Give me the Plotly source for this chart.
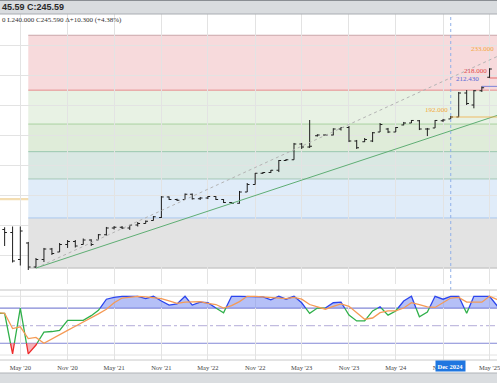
import pandas as pd
import plotly.graph_objects as go

# ---------------- data ----------------
months = pd.date_range("2020-02-01", "2025-06-01", freq="MS")   # stochastic months
bar_months = pd.date_range("2020-02-01", "2025-05-01", freq="MS")  # visible price bars

opens = [113, 117, 115, 97, 108, 92, 97, 104, 102, 107, 109,
         107, 110, 110, 113.5, 118, 118.5, 118, 120, 121, 123, 125, 138.7,
         137, 137, 140.5, 137.5, 138, 139, 137, 135, 134.5, 142, 147, 154.5,
         155, 156.5, 163, 163.5, 174, 172, 179.5, 180, 180, 184, 185, 176,
         175.5, 176, 182, 184, 182, 186.7, 188, 189.5, 184, 184.7, 189.5, 190.7,
         192, 208, 200, 209.5, 218.5]
highs = [120, 118.5, 119, 119, 108.7, 98, 104.7, 104.7, 108, 110, 110,
         111, 110.5, 114, 118.7, 119.3, 119.3, 120, 122, 123, 126, 139.3, 139,
         137.5, 141, 141, 138.7, 139.3, 139.3, 137.3, 135.3, 142.7, 148, 154.7, 155.3,
         156.7, 163.3, 164, 174.7, 174.7, 190, 180.5, 180.3, 184.5, 185.3, 186, 176.7,
         178, 182, 188, 184.7, 185.3, 188.7, 190, 190, 184.7, 190, 190.7, 192.7,
         208.7, 210, 210, 212.43, 224.5]
lows = [112, 106, 95, 93, 90, 91.3, 95.3, 100, 102, 104.7, 105,
        107, 106, 110, 113, 117, 117.3, 116.7, 119, 121, 123, 124.7, 136.7,
        136, 137, 137, 136.7, 137.3, 136.7, 134.7, 134, 134.3, 142, 147, 154,
        154.7, 155.3, 162.7, 163.5, 170.7, 171.3, 179, 179.5, 179.8, 183, 175.3, 170.7,
        175.3, 175.3, 182, 181.3, 182, 186.5, 188, 183.3, 179.3, 184.7, 188.7, 190.7,
        192, 200, 197.8, 208.7, 218]
closes = [118, 115, 96, 116, 92, 97, 104, 101, 107, 109, 106,
          110, 107, 113.5, 118, 118.5, 118, 120, 121, 122.5, 125.5, 138.7, 137,
          136.5, 140.5, 137.5, 138, 139, 137, 135, 134.5, 142, 147, 154.5, 155,
          156.5, 163, 163.5, 174, 172, 172.5, 180, 180, 184, 185, 176, 171.5,
          177, 181.5, 187, 182, 185, 188, 189.7, 184, 184, 189.7, 190, 192,
          208, 201, 209.5, 211.5, 224]

stoch_k = [71, 71, 2, 80, 2, 17, 39, 40, 42, 59, 59,
           59, 67, 76, 95, 98, 100, 100, 100, 96, 100, 92, 85,
           87, 100, 85, 90, 89, 80, 72, 100, 100, 100, 100, 99,
           94, 100, 95, 100, 89, 71, 80, 80, 89, 90, 68, 58,
           58, 75, 82, 68, 75, 92, 100, 65, 73, 100, 95, 100,
           100, 71, 100, 100, 100, 83]
stoch_d = [72, 71, 45, 48, 28, 30, 20, 27, 35, 42, 49,
           56, 63, 70, 78, 89, 97, 99, 100, 99, 98, 96, 92,
           88, 90, 90, 91, 88, 86, 80, 84, 91, 100, 100, 99,
           97, 97, 96, 98, 95, 86, 82, 78, 83, 87, 83, 72,
           61, 63, 72, 75, 75, 80, 89, 86, 82, 81, 89, 97,
           98, 90, 90, 90, 100, 94]

# Fibonacci retracement levels (high -> low) and band colours
fib_start = "2020-06-01"
fib_levels = [246.5, 209.9, 187.3, 168.9, 150.7, 124.7, 91.3]
fib_fills = ["#f7dadc", "#e8f2e4", "#dfecd9", "#d9e8e3", "#e0ecf9", "#e3e3e3"]
fib_lines = ["#c9a7a9", "#e58a8a", "#a9d2a0", "#98c6ae", "#a5c9b8", "#a9c9ef", "#b9b9b9"]

# trend lines
trend_green_dates = ["2020-07-01", "2025-05-30"]
trend_green_prices = [91.3, 193.0]
trend_dot_dates = ["2020-07-01", "2025-05-30"]
trend_dot_prices = [91.3, 232.3]

support_price = 137.3          # long pale orange line

# marked price levels
mark_dates = ["2024-12-01", "2025-04-01", "2025-05-01", "2025-06-01"]
mark_prices = [192.0, 212.43, 218.0, 233.0]
mark_labels = ["192.000", "212.430", "218.000", "233.000"]
mark_colors = ["#f2a93b", "#5468d8", "#e04848", "#f2a93b"]

tick_vals = ["2020-05-01", "2020-11-01", "2021-05-01", "2021-11-01", "2022-05-01",
             "2022-11-01", "2023-05-01", "2023-11-01", "2024-05-01", "2024-11-01",
             "2025-05-01"]
tick_text = ["May '20", "Nov '20", "May '21", "Nov '21", "May '22", "Nov '22",
             "May '23", "Nov '23", "May '24", "Nov '24", "May '25"]
price_grid = [100, 120, 140, 160, 180, 200, 220, 240]

cursor_date = "2024-12-01"
cursor_label = "Dec 2024"

header1 = "45.59 C:245.59"
header2 = "0 L240.000 C245.590 \u0394+10.300 (+4.38%)"

# ---------------- layout geometry ----------------
W, H = 500, 383
def py(px):
    return 1 - px / H

x_range = ["2020-02-12", "2025-05-30"]
main_dom = [py(284), py(14)]
stoch_dom = [py(360), py(290)]
price_range = [80.67, 260.67]
stoch_range = [-8.5, 110.7]

fig = go.Figure()

fig.add_trace(go.Ohlc(
    x=bar_months, open=opens, high=highs, low=lows, close=closes,
    increasing=dict(line=dict(color="#1e1e1e", width=1)),
    decreasing=dict(line=dict(color="#1e1e1e", width=1)),
    tickwidth=0.32, hoverinfo="skip", xaxis="x", yaxis="y", showlegend=False))

fig.add_trace(go.Scatter(x=trend_dot_dates, y=trend_dot_prices, mode="lines",
                         line=dict(color="#b4b4b4", width=1, dash="dot"),
                         hoverinfo="skip", showlegend=False))
fig.add_trace(go.Scatter(x=trend_green_dates, y=trend_green_prices, mode="lines",
                         line=dict(color="#5fae74", width=1),
                         hoverinfo="skip", showlegend=False))

# ---- stochastic ----
ts = [t.value for t in months]

def densify(ts, vs, levels=(20, 80)):
    xs, ys = [ts[0]], [vs[0]]
    for i in range(1, len(ts)):
        t0, t1, v0, v1 = ts[i - 1], ts[i], vs[i - 1], vs[i]
        cr = []
        for L in levels:
            if (v0 - L) * (v1 - L) < 0:
                cr.append(((L - v0) / (v1 - v0), L))
        for f, L in sorted(cr):
            xs.append(t0 + (t1 - t0) * f)
            ys.append(L)
        xs.append(t1)
        ys.append(v1)
    return xs, ys

dx, dy = densify(ts, stoch_k)
dxd = list(pd.to_datetime(dx))

fig.add_trace(go.Scatter(x=dxd, y=[80] * len(dy), mode="lines", line=dict(width=0),
                         xaxis="x2", yaxis="y2", hoverinfo="skip", showlegend=False))
fig.add_trace(go.Scatter(x=dxd, y=[max(v, 80) for v in dy], mode="lines", line=dict(width=0),
                         fill="tonexty", fillcolor="rgba(120,140,240,0.55)",
                         xaxis="x2", yaxis="y2", hoverinfo="skip", showlegend=False))
fig.add_trace(go.Scatter(x=dxd, y=[20] * len(dy), mode="lines", line=dict(width=0),
                         xaxis="x2", yaxis="y2", hoverinfo="skip", showlegend=False))
fig.add_trace(go.Scatter(x=dxd, y=[min(v, 20) for v in dy], mode="lines", line=dict(width=0),
                         fill="tonexty", fillcolor="rgba(240,130,140,0.6)",
                         xaxis="x2", yaxis="y2", hoverinfo="skip", showlegend=False))

def cls(v):
    return "hi" if v > 80 else ("lo" if v < 20 else "mid")

segs = {"hi": ([], []), "mid": ([], []), "lo": ([], [])}
for j in range(len(dx) - 1):
    c = cls((dy[j] + dy[j + 1]) / 2)
    sx, sy = segs[c]
    if not sx or sx[-1] != dxd[j]:
        if sx:
            sx.append(None); sy.append(None)
        sx.append(dxd[j]); sy.append(dy[j])
    sx.append(dxd[j + 1]); sy.append(dy[j + 1])

seg_colors = {"hi": "#2b45ee", "mid": "#2fb04a", "lo": "#ee2a2a"}
for c in ["mid", "hi", "lo"]:
    sx, sy = segs[c]
    fig.add_trace(go.Scatter(x=sx, y=sy, mode="lines", line=dict(color=seg_colors[c], width=1.3),
                             connectgaps=False, xaxis="x2", yaxis="y2",
                             hoverinfo="skip", showlegend=False))

fig.add_trace(go.Scatter(x=months, y=stoch_d, mode="lines",
                         line=dict(color="#f59a55", width=1.3),
                         xaxis="x2", yaxis="y2", hoverinfo="skip", showlegend=False))

# ---------------- shapes ----------------
shapes = []
for i in range(len(fib_fills)):
    shapes.append(dict(type="rect", xref="x", yref="y", x0=fib_start, x1="2026-12-01",
                       y0=fib_levels[i + 1], y1=fib_levels[i], fillcolor=fib_fills[i],
                       line=dict(width=0), layer="below"))
for i, lv in enumerate(fib_levels):
    shapes.append(dict(type="line", xref="x", yref="y", x0=fib_start, x1="2026-12-01",
                       y0=lv, y1=lv, line=dict(color=fib_lines[i], width=1), layer="below"))
shapes.append(dict(type="line", xref="paper", yref="y", x0=0, x1=1, y0=support_price,
                   y1=support_price, line=dict(color="#f3ddb2", width=2.2), layer="below"))
for d, p, c in zip(mark_dates, mark_prices, mark_colors):
    shapes.append(dict(type="line", xref="x", yref="y", x0=d, x1="2026-12-01", y0=p, y1=p,
                       line=dict(color=c, width=1), opacity=0.75))
shapes.append(dict(type="line", xref="x", yref="paper", x0=cursor_date, x1=cursor_date,
                   y0=py(290), y1=py(14), line=dict(color="#8fb0e8", width=1, dash="dot")))
for v, c, w, dash in [(100, "#e2e2e2", 1, "solid"), (0, "#e2e2e2", 1, "solid"),
                      (80, "#8287d6", 1.2, "solid"), (20, "#8287d6", 1.2, "solid"),
                      (50, "#c2bce0", 1.2, "dashdot")]:
    shapes.append(dict(type="line", xref="paper", yref="y2", x0=0, x1=1, y0=v, y1=v,
                       line=dict(color=c, width=w, dash=dash), layer="below"))
for ypx, c in [(290, "#c4c4c4"), (360, "#c8c8c8")]:
    shapes.append(dict(type="line", xref="paper", yref="paper", x0=0, x1=1, y0=py(ypx),
                       y1=py(ypx), line=dict(color=c, width=1)))
shapes.append(dict(type="rect", xref="paper", yref="paper", x0=0, x1=1, y0=py(14), y1=1,
                   fillcolor="#d9dcdf", line=dict(width=0)))
shapes.append(dict(type="line", xref="paper", yref="paper", x0=0, x1=1, y0=py(14), y1=py(14),
                   line=dict(color="#a9adb2", width=1)))
shapes.append(dict(type="line", xref="paper", yref="paper", x0=0, x1=1, y0=py(0.5), y1=py(0.5),
                   line=dict(color="#8a8e93", width=1)))
shapes.append(dict(type="rect", xref="paper", yref="paper", x0=0, x1=1, y0=0, y1=py(373),
                   fillcolor="#dadde0", line=dict(width=0)))
shapes.append(dict(type="line", xref="paper", yref="paper", x0=0, x1=1, y0=py(373), y1=py(373),
                   line=dict(color="#b0b4b8", width=1)))

# ---------------- annotations ----------------
ann = []
ann.append(dict(text="<b>" + header1 + "</b>", xref="paper", yref="paper", x=0, y=py(7),
                xanchor="left", yanchor="middle", showarrow=False,
                font=dict(family="Liberation Sans", size=9, color="#2a2a2a")))
ann.append(dict(text=header2, xref="paper", yref="paper", x=0, y=py(20),
                xanchor="left", yanchor="middle", showarrow=False,
                font=dict(family="Liberation Serif", size=7, color="#333")))
for d, p, lab, c in zip(mark_dates, mark_prices, mark_labels, mark_colors):
    lx = min(pd.Timestamp(d), pd.Timestamp(x_range[1]))
    ann.append(dict(text=lab, xref="x", yref="y", x=lx, y=p, xanchor="right", yanchor="middle",
                    yshift=7, xshift=-1, showarrow=False,
                    font=dict(family="Liberation Serif", size=7, color=c)))
ann.append(dict(text="<b>" + cursor_label + "</b>", xref="x2", yref="paper", x=cursor_date,
                y=py(366), xanchor="center", yanchor="middle", showarrow=False,
                bgcolor="#1f76e0", borderpad=1.5,
                font=dict(family="Liberation Serif", size=6.5, color="white")))

fig.update_layout(
    width=W, height=H, autosize=False,
    margin=dict(l=0, r=0, t=0, b=0),
    paper_bgcolor="white", plot_bgcolor="white",
    showlegend=False, hovermode=False,
    shapes=shapes, annotations=ann,
    xaxis=dict(domain=[0, 1], range=x_range, type="date", anchor="y",
               showgrid=True, gridcolor="#e3e3e3", gridwidth=1,
               tickvals=tick_vals, showticklabels=False, ticks="",
               rangeslider=dict(visible=False), zeroline=False, showline=False),
    yaxis=dict(domain=main_dom, range=price_range, anchor="x",
               tickvals=price_grid, showticklabels=False, ticks="",
               showgrid=True, gridcolor="#e3e3e3", zeroline=False, showline=False),
    xaxis2=dict(domain=[0, 1], range=x_range, type="date", anchor="y2", matches="x",
                showgrid=True, gridcolor="#e3e3e3", tickvals=tick_vals, ticktext=tick_text,
                ticks="", ticklabelstandoff=2, ticklabeloverflow="allow",
                tickfont=dict(family="Liberation Serif", size=6.5, color="#444"),
                zeroline=False, showline=False),
    yaxis2=dict(domain=stoch_dom, range=stoch_range, anchor="x2", showgrid=False,
                showticklabels=False, ticks="", zeroline=False, showline=False),
)

fig.write_html("out.html", config={"displayModeBar": False},
               post_script="document.body.style.margin='0';document.body.style.overflow='hidden';")
